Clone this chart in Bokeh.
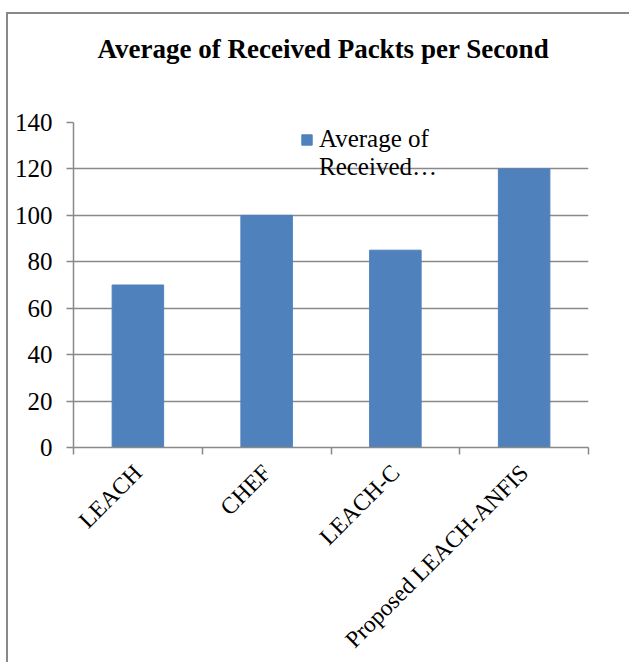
import math
from bokeh.plotting import figure
from bokeh.models import (LinearAxis, FixedTicker, Range1d, Legend, LegendItem,
                          ColumnDataSource, Title, Grid)
from bokeh.embed import file_html
from bokeh.resources import INLINE

categories = ["LEACH", "CHEF", "LEACH-C", "Proposed LEACH-ANFIS"]
values = [70, 100, 85, 120]
y_ticks = [0, 20, 40, 60, 80, 100, 120, 140]
title_text = "Average of Received Packts per Second"
legend_lines = ["Average of", "Received\u2026"]

FONT = "Liberation Serif"
GRAY = "#898989"
BLUE = "#4F81BD"

n = len(categories)
xs = [i + 0.5 for i in range(n)]
src = ColumnDataSource(dict(x=xs, top=values, cat=categories))

p = figure(width=623, height=650, output_backend="svg", toolbar_location=None,
           x_range=Range1d(0, n), y_range=Range1d(0, y_ticks[-1]),
           x_axis_type=None, y_axis_type=None,
           min_border_left=65, min_border_right=43, min_border_top=108,
           min_border_bottom=217, background_fill_color="white",
           border_fill_color="white")
p.margin = (12, 0, 0, 6)
p.styles = {"border-top": "2px solid #888888", "border-left": "2px solid #888888"}
p.outline_line_color = None

y_ticker = FixedTicker(ticks=y_ticks, minor_ticks=[])
grid = Grid(dimension=1, ticker=y_ticker, grid_line_color=GRAY,
            grid_line_width=1.5)
p.add_layout(grid, "center")

bars = p.vbar(x="x", top="top", bottom=0, width=0.4, source=src,
              fill_color=BLUE, line_color=BLUE)
dummy = p.vbar(x=[], top=[], width=0.4, fill_alpha=0, line_alpha=0)

# y axis
yax = LinearAxis(ticker=y_ticker)
yax.axis_line_color = GRAY
yax.axis_line_width = 1.5
yax.major_tick_line_color = GRAY
yax.major_tick_line_width = 1.5
yax.major_tick_out = 7
yax.major_tick_in = 0
yax.minor_tick_line_color = None
yax.major_label_text_font = FONT
yax.major_label_text_font_size = "25px"
yax.major_label_text_color = "black"
yax.major_label_standoff = 14
p.add_layout(yax, "left")

# x axis: labels at centers, ticks at boundaries
xax = LinearAxis(ticker=FixedTicker(ticks=xs, minor_ticks=list(range(n + 1))))
xax.major_label_overrides = {x: c for x, c in zip(xs, categories)}
xax.axis_line_color = GRAY
xax.axis_line_width = 1.5
xax.major_tick_line_color = None
xax.major_tick_out = 0
xax.major_tick_in = 0
xax.minor_tick_line_color = GRAY
xax.minor_tick_line_width = 1.5
xax.minor_tick_out = 7
xax.minor_tick_in = 0
xax.major_label_orientation = math.pi / 4
xax.major_label_text_font = FONT
xax.major_label_text_font_size = "23.5px"
xax.major_label_text_color = "black"
xax.major_label_standoff = 14
p.add_layout(xax, "below")

# spacer between title and frame
spacer = Title(text=" ", text_font_size="1px", standoff=56)
p.add_layout(spacer, "above")

p.title.text = title_text
p.title.align = "left"
p.title.offset = 24
p.title.vertical_align = "bottom"
p.title.standoff = 0
p.title.text_font = FONT
p.title.text_font_size = "27px"
p.title.text_font_style = "bold"
p.title.text_color = "black"

legend = Legend(items=[LegendItem(label=legend_lines[0], renderers=[bars]),
                       LegendItem(label=legend_lines[1], renderers=[dummy])],
                location=(227, 266), orientation="vertical",
                border_line_color=None, background_fill_alpha=0,
                padding=0, margin=0, spacing=-3, label_standoff=6,
                glyph_width=13, glyph_height=13,
                label_text_font=FONT, label_text_font_size="25px",
                label_text_color="black")
p.add_layout(legend, "center")

open("out.html", "w").write(file_html(p, INLINE))
